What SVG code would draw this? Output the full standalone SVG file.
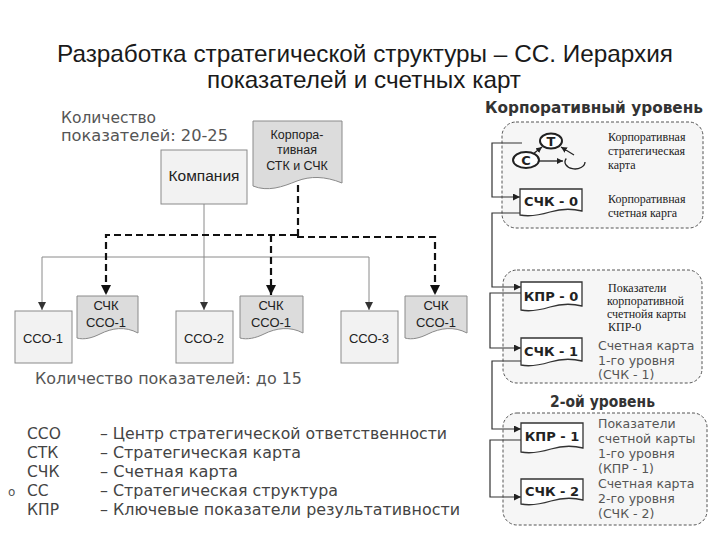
<svg xmlns="http://www.w3.org/2000/svg" width="720" height="540" viewBox="0 0 720 540">
<style>
.title{font-family:"Liberation Sans Narrow","Liberation Sans",Arial,sans-serif;font-size:24px;fill:#1a1a1a}
.ver{font-family:"DejaVu Sans",Verdana,sans-serif;fill:#555}
.leg{font-family:"DejaVu Sans",Verdana,sans-serif;fill:#444;font-size:15.5px}
.ar{font-family:"Liberation Sans",Arial,sans-serif;fill:#222;text-anchor:middle}
.ser{font-family:"Liberation Serif","Times New Roman",serif;font-size:12px;fill:#222}
.bold{font-family:"DejaVu Sans",Verdana,sans-serif;font-weight:bold;fill:#333}
.lbl{font-family:"DejaVu Sans",Verdana,sans-serif;font-weight:bold;fill:#222;font-size:13px;text-anchor:middle}
.rs{font-family:"DejaVu Sans",Verdana,sans-serif;fill:#555;font-size:12.5px}
.box{fill:#f2f2f2;stroke:#8a8a8a;stroke-width:1}
.doc{fill:#dcdcdc;stroke:#8a8a8a;stroke-width:1}
.wdoc{fill:#fff;stroke:#333;stroke-width:1.3}
.grp{fill:#f6f6f6;stroke:#555;stroke-width:1;stroke-dasharray:3 2}
.sol{fill:none;stroke:#8a8a8a;stroke-width:1}
.dash{fill:none;stroke:#111;stroke-width:2.2;stroke-dasharray:7 4}
.rc{fill:none;stroke:#333;stroke-width:1.2}
.ell{fill:#fff;stroke:#222;stroke-width:2}
.sm{fill:none;stroke:#222;stroke-width:1.3}
</style>
<defs>
<marker id="arrS" viewBox="0 0 10 10" refX="10" refY="5" markerWidth="8" markerHeight="8" markerUnits="userSpaceOnUse" orient="auto"><path d="M0,0 L10,5 L0,10 z" fill="#333"/></marker>
<marker id="arrD" viewBox="0 0 10 10" refX="10" refY="5" markerWidth="10" markerHeight="10" markerUnits="userSpaceOnUse" orient="auto"><path d="M0,0 L10,5 L0,10 z" fill="#111"/></marker>
<marker id="arrR" viewBox="0 0 10 10" refX="10" refY="5" markerWidth="7" markerHeight="7" markerUnits="userSpaceOnUse" orient="auto"><path d="M0,0 L10,5 L0,10 z" fill="#222"/></marker>
<marker id="arrM" viewBox="0 0 10 10" refX="10" refY="5" markerWidth="6" markerHeight="6" markerUnits="userSpaceOnUse" orient="auto"><path d="M0,0 L10,5 L0,10 z" fill="#222"/></marker>
</defs>

<g id="title">
<text class="title" x="57" y="62" textLength="616" lengthAdjust="spacingAndGlyphs">Разработка стратегической структуры – СС. Иерархия</text>
<text class="title" x="207" y="88" textLength="314" lengthAdjust="spacingAndGlyphs">показателей и счетных карт</text>
</g>

<g id="count-top">
<text class="ver" x="61" y="123" font-size="16" textLength="95" lengthAdjust="spacingAndGlyphs">Количество</text>
<text class="ver" x="61" y="141" font-size="16" textLength="167" lengthAdjust="spacingAndGlyphs">показателей: 20-25</text>
</g>

<g id="corp-level">
<text class="bold" x="485" y="113" font-size="15" textLength="218" lengthAdjust="spacingAndGlyphs">Корпоративный уровень</text>
<rect class="grp" x="502" y="122" width="201" height="106" rx="14"/>
</g>
<g id="level1">
<rect class="grp" x="503" y="270" width="199" height="113" rx="14"/>
</g>
<g id="level2">
<text class="bold" x="550" y="407" font-size="15" textLength="105" lengthAdjust="spacingAndGlyphs">2-ой уровень</text>
<rect class="grp" x="503" y="413" width="204" height="112" rx="14"/>
</g>

<g id="connectors">
<path class="sol" d="M204,204 V310" marker-end="url(#arrS)"/>
<path class="sol" d="M42,257 H369"/>
<path class="sol" d="M42,257 V310" marker-end="url(#arrS)"/>
<path class="sol" d="M369,257 V310" marker-end="url(#arrS)"/>
<path class="dash" d="M298,185 V237"/>
<path class="dash" d="M297,235 H106 V295" marker-end="url(#arrD)"/>
<path class="dash" d="M271,235 V295" marker-end="url(#arrD)"/>
<path class="dash" d="M297,237 H435 V295" marker-end="url(#arrD)"/>
<path class="rc" d="M522,143 H492 V197 H520" marker-end="url(#arrR)"/>
<path class="rc" d="M520,213 H492 V287 H521" marker-end="url(#arrR)"/>
<path class="rc" d="M521,293 H490 V348 H521" marker-end="url(#arrR)"/>
<path class="rc" d="M521,361 H492 V429 H521" marker-end="url(#arrR)"/>
<path class="rc" d="M521,440 H490 V497 H521" marker-end="url(#arrR)"/>
</g>

<g id="kompania">
<rect class="box" x="161" y="150" width="86" height="54"/>
<text class="ar" x="204" y="181" font-size="15.5">Компания</text>
</g>

<g id="corp-doc">
<path class="doc" d="M253,121 H342 V183 C325,176 310,176 297,181 C282,187 268,192 253,186 Z"/>
<text class="ar" x="297" y="139" font-size="12.5">Корпора-</text>
<text class="ar" x="297" y="154" font-size="12.5">тивная</text>
<text class="ar" x="297" y="170" font-size="12.5">СТК и СЧК</text>
</g>

<g id="cco1">
<rect class="box" x="15" y="311" width="57" height="52"/>
<text class="ar" x="43" y="343" font-size="13">ССО-1</text>
</g>
<g id="doc1">
<path class="doc" d="M77,296 H138 V333 C125,326 112,328 100,334 C92,338 84,340 77,338 Z"/>
<text class="ar" x="106" y="310" font-size="13">СЧК</text>
<text class="ar" x="106" y="327" font-size="13">ССО-1</text>
</g>
<g id="cco2">
<rect class="box" x="176" y="311" width="57" height="52"/>
<text class="ar" x="204" y="343" font-size="13">ССО-2</text>
</g>
<g id="doc2">
<path class="doc" d="M240,296 H303 V333 C290,326 276,328 264,334 C256,338 247,340 240,338 Z"/>
<text class="ar" x="271" y="310" font-size="13">СЧК</text>
<text class="ar" x="271" y="327" font-size="13">ССО-1</text>
</g>
<g id="cco3">
<rect class="box" x="341" y="311" width="57" height="52"/>
<text class="ar" x="369" y="343" font-size="13">ССО-3</text>
</g>
<g id="doc3">
<path class="doc" d="M405,296 H467 V333 C454,326 440,328 428,334 C420,338 412,340 405,338 Z"/>
<text class="ar" x="436" y="310" font-size="13">СЧК</text>
<text class="ar" x="436" y="327" font-size="13">ССО-1</text>
</g>

<g id="count-bottom">
<text class="ver" x="35" y="384" font-size="16" textLength="267" lengthAdjust="spacingAndGlyphs">Количество показателей: до 15</text>
</g>

<g id="legend">
<text class="leg" x="27" y="439">ССО</text>
<text class="leg" x="100" y="439" textLength="347" lengthAdjust="spacingAndGlyphs">– Центр стратегической ответственности</text>
<text class="leg" x="27" y="458">СТК</text>
<text class="leg" x="100" y="458" textLength="201" lengthAdjust="spacingAndGlyphs">– Стратегическая карта</text>
<text class="leg" x="27" y="477">СЧК</text>
<text class="leg" x="100" y="477" textLength="138" lengthAdjust="spacingAndGlyphs">– Счетная карта</text>
<text class="ver" x="8" y="496" font-size="12" fill="#222">o</text>
<text class="leg" x="27" y="496">СС</text>
<text class="leg" x="100" y="496" textLength="238" lengthAdjust="spacingAndGlyphs">– Стратегическая структура</text>
<text class="leg" x="27" y="515">КПР</text>
<text class="leg" x="100" y="515" textLength="360" lengthAdjust="spacingAndGlyphs">– Ключевые показатели результативности</text>
</g>

<g id="stk-map">
<path class="sm" d="M533,154 L542,147" marker-end="url(#arrM)"/>
<path class="sm" d="M539,161 L563,161" marker-end="url(#arrM)"/>
<path class="sm" d="M574,155 L561,147" marker-end="url(#arrM)"/>
<ellipse class="ell" cx="526" cy="160" rx="13" ry="8"/>
<text class="lbl" x="526" y="165">C</text>
<ellipse class="ell" cx="551" cy="141" rx="11" ry="7.5"/>
<text class="lbl" x="551" y="146">T</text>
<path class="sm" d="M566.3,158.5 A10,7 0 1 0 585,162" stroke-width="2"/>
<text class="ser" x="608" y="141">Корпоративная</text>
<text class="ser" x="608" y="155">стратегическая</text>
<text class="ser" x="608" y="169">карта</text>
</g>

<g id="sck0">
<path class="wdoc" d="M520,189 H582 V211 C570,208 560,209 550,212 C540,215 530,217 520,215 Z"/>
<text class="lbl" x="551" y="206">СЧК - 0</text>
<text class="ser" x="608" y="203">Корпоративная</text>
<text class="ser" x="608" y="217">счетная карга</text>
</g>

<g id="kpr0">
<path class="wdoc" d="M521,282 H582 V306 C570,303 560,304 550,307 C540,310 530,312 521,310 Z"/>
<text class="lbl" x="551" y="301">КПР - 0</text>
<text class="ser" x="608" y="292">Показатели</text>
<text class="ser" x="607" y="305">корпоративной</text>
<text class="ser" x="607" y="318">счетнойя карты</text>
<text class="ser" x="608" y="331">КПР-0</text>
</g>
<g id="sck1">
<path class="wdoc" d="M521,338 H582 V361 C570,358 560,359 550,362 C540,365 530,367 521,365 Z"/>
<text class="lbl" x="551" y="356">СЧК - 1</text>
<text class="rs" x="598" y="350">Счетная карта</text>
<text class="rs" x="598" y="365">1-го уровня</text>
<text class="rs" x="598" y="379">(СЧК - 1)</text>
</g>

<g id="kpr1">
<path class="wdoc" d="M521,423 H583 V448 C571,445 561,446 551,449 C541,452 531,454 521,452 Z"/>
<text class="lbl" x="552" y="441">КПР - 1</text>
<text class="rs" x="598" y="428">Показатели</text>
<text class="rs" x="598" y="443">счетной карты</text>
<text class="rs" x="598" y="458">1-го уровня</text>
<text class="rs" x="598" y="473">(КПР - 1)</text>
</g>
<g id="sck2">
<path class="wdoc" d="M521,479 H583 V500 C571,497 561,498 551,501 C541,504 531,506 521,504 Z"/>
<text class="lbl" x="552" y="496">СЧК - 2</text>
<text class="rs" x="598" y="488">Счетная карта</text>
<text class="rs" x="598" y="503">2-го уровня</text>
<text class="rs" x="598" y="518">(СЧК - 2)</text>
</g>
</svg>
